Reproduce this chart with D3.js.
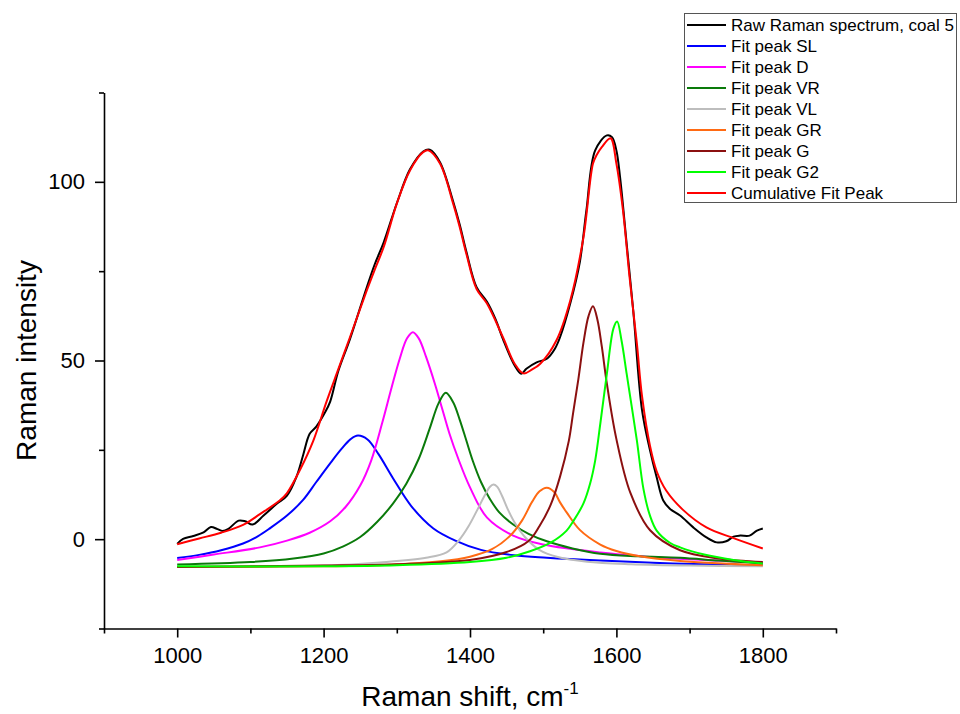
<!DOCTYPE html>
<html>
<head>
<meta charset="utf-8">
<script src="https://cdn.jsdelivr.net/npm/d3@7/dist/d3.min.js"></script>
<style>
  html, body { margin: 0; padding: 0; background: #fff; }
  svg { display: block; font-family: Arial, "Liberation Sans", sans-serif; }
</style>
</head>
<body>
<svg id="chart" width="960" height="714"></svg>
<script>
// ---- Data ----
const rawX = [1000,1008,1022,1036,1046,1055,1062,1070,1084,1093,1103,1118,1136,1150,1163,1172,1181,1190,1202,1209,1220,1236,1259,1270,1282,1300,1318,1336,1345,1359,1377,1386,1395,1409,1423,1435,1445,1461,1470,1477,1491,1505,1516,1523,1537,1550,1559,1571,1587,1594,1600,1605,1614,1623,1635,1646,1655,1664,1673,1687,1705,1723,1737,1750,1760,1769,1782,1792,1800];
const rawY = [-1.3,0.1,0.9,1.9,3.4,2.8,2.3,2.9,5.2,5.0,4.1,6.6,9.9,12.2,17.5,23.5,29.5,31.5,35.5,38.5,47.0,56.0,70.5,77.0,83.0,94.0,103.5,108.5,109.0,105.5,94.5,88.0,80.5,70.5,66.5,61.5,56.0,48.6,46.3,47.7,49.5,50.5,53.3,56.5,66.0,77.5,92.0,108.8,113.0,112.5,108.8,101.3,82.7,64.0,36.1,24.8,17.3,10.8,8.5,6.6,3.3,0.5,-0.9,-0.6,0.7,1.0,1.0,2.4,3.0];

const slX = [1000,1030,1060,1090,1110,1127,1150,1172,1190,1210,1225,1237,1247,1260,1275,1295,1320,1350,1380,1415,1460,1505,1578,1650,1720,1800];
const slY = [-5.3,-4.4,-3.1,-1.2,0.8,3.1,6.6,11.0,16.0,21.5,25.4,28.0,29.0,27.9,23.8,17.0,9.2,3.0,-0.4,-3.0,-4.5,-5.2,-6.0,-6.6,-7.0,-7.3];

const dX = [1000,1050,1113,1150,1181,1209,1230,1250,1265,1280,1293,1304,1314,1322,1330,1340,1352,1362,1372,1384,1400,1423,1459,1500,1578,1687,1800];
const dY = [-5.8,-4.3,-2.3,-0.4,1.8,5.0,9.0,15.0,22.0,32.5,42.5,50.5,56.2,57.9,56.2,51.0,43.5,36.5,29.5,22.5,14.5,6.1,1.0,-1.5,-3.7,-5.5,-6.5];

const vrX = [1000,1100,1159,1200,1227,1250,1273,1295,1313,1330,1345,1357,1367,1377,1386,1395,1404,1415,1427,1440,1459,1480,1505,1540,1578,1630,1687,1740,1800];
const vrY = [-7.1,-6.4,-5.4,-4.0,-2.0,0.6,4.8,10.0,15.5,22.5,31.0,38.0,41.0,38.3,33.4,27.6,21.8,16.0,11.3,7.5,4.1,1.5,-0.6,-2.6,-4.1,-4.8,-5.2,-6.0,-6.8];

const vlX = [1000,1200,1277,1340,1368,1385,1398,1410,1420,1427,1432,1437,1444,1452,1462,1475,1494,1520,1560,1620,1700,1800];
const vlY = [-7.8,-7.4,-6.5,-5.2,-3.7,-0.3,3.6,8.2,12.2,14.6,15.3,14.7,12.0,8.2,4.3,0.6,-2.9,-5.0,-6.3,-7.0,-7.4,-7.6];

const grX = [1000,1200,1277,1360,1400,1430,1455,1471,1485,1495,1505,1515,1523,1532,1550,1578,1600,1632,1687,1800];
const grY = [-7.8,-7.6,-7.3,-6.2,-4.9,-2.8,1.0,5.2,10.5,13.4,14.4,13.2,10.3,7.5,2.6,-1.5,-3.3,-4.8,-6.1,-7.3];

const gX = [1000,1200,1300,1400,1450,1480,1495,1510,1523,1535,1541,1548,1555,1562,1568,1574,1580,1587,1600,1619,1646,1687,1740,1800];
const gY = [-7.8,-7.4,-7.0,-5.8,-3.6,-0.5,3.7,9.5,17.5,27.5,35.5,44.7,55.0,62.5,65.2,61.5,54.0,43.5,28.0,13.0,2.5,-3.1,-5.4,-6.4];

const g2X = [1000,1200,1300,1400,1450,1482,1510,1532,1541,1555,1564,1571,1578,1587,1596,1601,1607,1614,1621,1628,1637,1646,1655,1673,1687,1720,1760,1800];
const g2Y = [-7.6,-7.6,-7.3,-6.4,-5.2,-3.4,-1.0,2.4,5.0,10.0,15.5,22.0,32.3,46.3,59.0,60.9,55.6,46.3,37.0,27.6,14.0,6.5,2.4,-1.0,-2.3,-4.3,-5.8,-6.8];

const cumX = [1000,1030,1060,1090,1113,1140,1150,1168,1186,1204,1220,1236,1259,1270,1282,1300,1318,1336,1343,1359,1377,1386,1395,1409,1423,1445,1461,1473,1485,1496,1518,1537,1555,1568,1573,1580,1592,1600,1609,1618,1628,1635,1646,1655,1668,1691,1723,1760,1800];
const cumY = [-1.4,0.2,1.8,4.0,7.0,10.8,12.9,19.5,27.6,38.5,47.5,56.5,69.6,75.5,81.7,93.9,103.2,108.3,108.8,105.1,93.9,87.3,79.9,70.0,66.0,56.5,49.1,46.4,47.5,49.1,55.6,66.8,84.5,105.1,107.5,109.7,112.2,105.1,92.0,73.3,54.7,40.0,26.0,19.0,13.6,8.2,3.3,0.3,-2.6];

const seriesNames = ["Raw Raman spectrum, coal 5","Fit peak SL","Fit peak D","Fit peak VR","Fit peak VL","Fit peak GR","Fit peak G","Fit peak G2","Cumulative Fit Peak"];
const seriesColors = ["#000000","#0000ff","#ff00ff","#0a7a0a","#bdbdbd","#ff6a13","#8b1010","#00ff00","#ff0000"];

const xMajorTicks = [1000,1200,1400,1600,1800];
const xMinorTicks = [900,1100,1300,1500,1700,1900];
const yMajorTicks = [0,50,100];
const yMinorTicks = [-25,25,75,125];

// ---- Build ----
const seriesData = [
  [rawX, rawY],[slX, slY],[dX, dY],[vrX, vrY],[vlX, vlY],[grX, grY],[gX, gY],[g2X, g2Y],[cumX, cumY]
].map(([xs, ys], i) => ({
  name: seriesNames[i], color: seriesColors[i],
  pts: xs.map((x, j) => ({x, y: ys[j]}))
}));

const svg = d3.select("#chart");
const x = d3.scaleLinear().domain([900, 1900]).range([104, 836]);
const y = d3.scaleLinear().domain([-25, 125]).range([628.5, 92.5]);

const line = d3.line().x(d => x(d.x)).y(d => y(d.y)).curve(d3.curveCatmullRom.alpha(0.5));

const plot = svg.append("g");
seriesData.forEach(s => {
  plot.append("path")
    .attr("d", line(s.pts))
    .attr("fill", "none")
    .attr("stroke", s.color)
    .attr("stroke-width", 2)
    .attr("stroke-linejoin", "round");
});

// Axes
const fontTick = 22;
function styleAxis(g) {
  g.select(".domain").attr("stroke", "#000").attr("stroke-width", 1.6);
  g.selectAll(".tick line").attr("stroke", "#000").attr("stroke-width", 1.6);
  g.selectAll(".tick text").attr("fill", "#000").attr("font-size", fontTick)
    .attr("font-family", "Arial, 'Liberation Sans', sans-serif");
}
const xAxisG = svg.append("g").attr("transform", `translate(0,${y(-25)})`);
xAxisG.call(d3.axisBottom(x).tickValues(xMinorTicks).tickSize(5).tickSizeOuter(0).tickFormat(""));
styleAxis(xAxisG);
const xAxisMajor = svg.append("g").attr("transform", `translate(0,${y(-25)})`)
  .call(d3.axisBottom(x).tickValues(xMajorTicks).tickSize(9).tickSizeOuter(0).tickPadding(10).tickFormat(d3.format("d")));
xAxisMajor.select(".domain").remove();
styleAxis(xAxisMajor);

const yAxisG = svg.append("g").attr("transform", `translate(${x(900)},0)`);
yAxisG.call(d3.axisLeft(y).tickValues(yMinorTicks).tickSize(5).tickSizeOuter(0).tickFormat(""));
styleAxis(yAxisG);
const yAxisMajor = svg.append("g").attr("transform", `translate(${x(900)},0)`)
  .call(d3.axisLeft(y).tickValues(yMajorTicks).tickSize(9).tickSizeOuter(0).tickPadding(10).tickFormat(d3.format("d")));
yAxisMajor.select(".domain").remove();
styleAxis(yAxisMajor);

// Axis titles
const xt = svg.append("text")
  .attr("x", 470).attr("y", 706)
  .attr("text-anchor", "middle")
  .attr("font-size", 28).attr("fill", "#000");
xt.append("tspan").text("Raman shift, cm");
xt.append("tspan").attr("font-size", 17).attr("dy", -12).text("-1");

svg.append("text")
  .attr("transform", `translate(36,${(y(-25)+y(125))/2}) rotate(-90)`)
  .attr("text-anchor", "middle")
  .attr("font-size", 28).attr("fill", "#000")
  .text("Raman intensity");

// Legend
const lg = svg.append("g");
lg.append("rect").attr("x", 684.5).attr("y", 13.5).attr("width", 272).attr("height", 189)
  .attr("fill", "#fff").attr("stroke", "#555").attr("stroke-width", 1);
seriesData.forEach((s, i) => {
  const cy = 25 + i * 21;
  lg.append("line").attr("x1", 687).attr("x2", 726).attr("y1", cy).attr("y2", cy)
    .attr("stroke", s.color).attr("stroke-width", 2);
  lg.append("text").attr("x", 731).attr("y", cy).attr("dy", "0.36em")
    .attr("font-size", 17).attr("fill", "#000").text(s.name);
});
</script>
</body>
</html>
